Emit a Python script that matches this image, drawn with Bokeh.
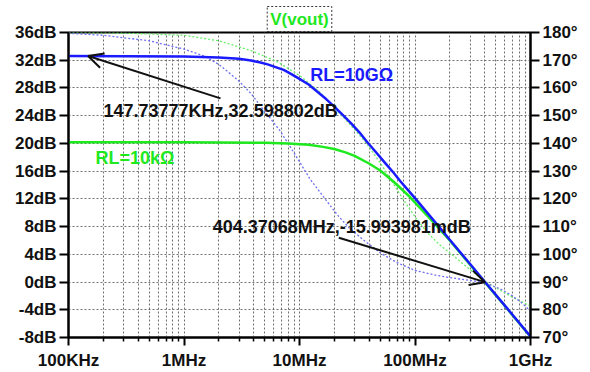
from bokeh.plotting import figure
from bokeh.models import (Range1d, LinearAxis, FixedTicker, PrintfTickFormatter,
                          Label, Arrow, OpenHead, Title)
from bokeh.embed import file_html
from bokeh.resources import INLINE

# ---------------- data ----------------
freq_mag_10g = [1e5, 1e6, 2e6, 3e6, 3.8e6, 4.5e6, 5.3e6, 6.2e6, 7.3e6, 8.5e6, 10e6,
                12e6, 14.2e6, 17e6, 20e6, 24e6, 28e6, 33e6, 38.5e6, 45e6, 55e6,
                65e6, 75e6, 100e6, 145e6, 200e6, 300e6, 404e6, 600e6, 1e9]
mag_10g = [32.6, 32.55, 32.4, 32.2, 31.95, 31.7, 31.4, 31.0, 30.6, 30.0, 29.3,
           28.5, 27.5, 26.4, 25.3, 24.0, 22.9, 21.6, 20.2, 18.9, 17.2,
           15.8, 14.5, 12.1, 8.9, 6.1, 2.6, 0.0, -3.4, -7.85]

freq_mag_10k = [1e5, 1e6, 5e6, 8e6, 12e6, 16e6, 20e6, 25e6, 30e6, 40e6, 50e6,
                65e6, 90e6, 140e6, 200e6, 300e6, 404e6, 600e6, 1e9]
mag_10k = [20.15, 20.15, 20.1, 20.0, 19.8, 19.5, 19.2, 18.7, 18.2, 17.1, 16.1,
           14.5, 12.3, 8.85, 6.0, 2.5, -0.05, -3.45, -7.9]

freq_ph_10g = [1e5, 2e5, 5e5, 1e6, 1.5e6, 2e6, 2.9e6, 3.8e6, 4.6e6, 5.6e6, 6.8e6,
               9e6, 12.4e6, 15e6, 18.5e6, 22e6, 27e6, 35e6, 50e6, 70e6, 100e6,
               150e6, 200e6, 300e6, 400e6, 550e6, 700e6, 850e6, 1e9]
ph_10g = [179.7, 179.0, 177.0, 174.0, 171.5, 168.5, 163.0, 158.0, 153.5, 149.0, 144.5,
          136.5, 127.0, 122.5, 117.5, 113.5, 109.5, 105.5, 100.5, 97.0, 94.2,
          92.5, 91.6, 90.6, 89.8, 87.5, 85.0, 82.3, 79.5]

freq_ph_10k = [1e5, 3e5, 1e6, 2e6, 3.8e6, 6.4e6, 10e6, 15e6, 21e6, 30e6, 38e6,
               50e6, 66e6, 80e6, 100e6, 128e6, 160e6, 200e6, 280e6, 400e6, 550e6,
               700e6, 1e9]
ph_10k = [180.0, 179.8, 179.0, 177.0, 173.5, 169.5, 164.5, 158.5, 152.0, 145.0, 140.0,
          133.0, 125.0, 119.5, 113.5, 107.8, 103.8, 100.5, 95.5, 90.3, 87.0,
          84.5, 81.3]

x_ticks = [1e5, 1e6, 1e7, 1e8, 1e9]
x_tick_labels = ["100KHz", "1MHz", "10MHz", "100MHz", "1GHz"]
db_ticks = list(range(-8, 37, 4))
deg_ticks = list(range(70, 181, 10))

cursor1 = (147.73777e3, 32.598802)
cursor1_text = "147.73777KHz,32.598802dB"
cursor2 = (404.37068e6, -15.993981e-3)
cursor2_text = "404.37068MHz,-15.993981mdB"

# ---------------- style ----------------
FONT = "Liberation Sans"
BLUE = "#1a1aff"
GREEN = "#1ee81e"
BLUE_DOT = "#6f6ff5"
GREEN_DOT = "#66ee66"
GRID = "#707070"

minor = []
for d in [1e5, 1e6, 1e7, 1e8]:
    minor += [d * k for k in range(2, 10)]

p = figure(width=590, height=372, x_axis_type="log", output_backend="svg",
           toolbar_location=None, x_range=Range1d(1e5, 1e9), y_range=Range1d(-8, 36),
           min_border_left=68, min_border_right=60, min_border_top=32,
           min_border_bottom=34, background_fill_color="white",
           border_fill_color="white", outline_line_color="black",
           outline_line_width=2)
p.extra_y_ranges = {"phase": Range1d(70, 180)}

p.title = Title(text="V(vout)", align="center", text_color=GREEN,
                text_font=FONT, text_font_style="bold", text_font_size="17px",
                standoff=2, border_line_color="#333333", border_line_dash="2 2",
                border_line_width=1, padding=3)

# x axis
xa = p.xaxis[0]
xa.ticker = FixedTicker(ticks=x_ticks, minor_ticks=minor)
xa.major_label_overrides = {int(t): l for t, l in zip(x_ticks, x_tick_labels)}
# left axis
ya = p.yaxis[0]
ya.ticker = FixedTicker(ticks=db_ticks)
ya.formatter = PrintfTickFormatter(format="%ddB")
# right axis
ra = LinearAxis(y_range_name="phase", ticker=FixedTicker(ticks=deg_ticks),
                formatter=PrintfTickFormatter(format="%d°"))
p.add_layout(ra, "right")

for ax in [xa, ya, ra]:
    ax.axis_line_width = 2
    ax.axis_line_color = "black"
    ax.major_tick_line_width = 2
    ax.major_tick_line_color = "black"
    ax.major_tick_in = 0
    ax.major_tick_out = 9
    ax.minor_tick_in = 0
    ax.minor_tick_out = 4
    ax.minor_tick_line_width = 1.5
    ax.minor_tick_line_color = "black"
    ax.major_label_text_font = FONT
    ax.major_label_text_font_style = "bold"
    ax.major_label_text_font_size = "17px"
    ax.major_label_text_color = "#111111"
    ax.major_label_standoff = 3
xa.major_tick_out = 8
xa.major_label_standoff = 5

p.xgrid.ticker = FixedTicker(ticks=x_ticks, minor_ticks=minor)
p.ygrid.ticker = FixedTicker(ticks=db_ticks)
for g in [p.xgrid[0], p.ygrid[0]]:
    g.grid_line_color = GRID
    g.grid_line_dash = "2 2"
    g.grid_line_width = 1
p.xgrid.minor_grid_line_color = GRID
p.xgrid.minor_grid_line_dash = "2 2"
p.xgrid.minor_grid_line_width = 1

# curves
p.line(freq_ph_10k, ph_10k, y_range_name="phase", color=GREEN_DOT, line_width=1.3,
       line_dash="2 2")
p.line(freq_ph_10g, ph_10g, y_range_name="phase", color=BLUE_DOT, line_width=1.3,
       line_dash="2 2")
p.line(freq_mag_10k, mag_10k, color=GREEN, line_width=2.5, line_join="round")
p.line(freq_mag_10g, mag_10g, color=BLUE, line_width=2.5, line_join="round")

# annotations
p.add_layout(Arrow(end=OpenHead(size=15, line_width=2, line_color="#111111"),
                   x_start=2.07e6, y_start=26.5, x_end=cursor1[0], y_end=cursor1[1],
                   line_width=2, line_color="#111111"))
p.add_layout(Arrow(end=OpenHead(size=15, line_width=2, line_color="#111111"),
                   x_start=21.9e6, y_start=6.4, x_end=cursor2[0], y_end=cursor2[1],
                   line_width=2, line_color="#111111"))

def lab(x, y, txt, color):
    l = Label(x=x, y=y, text=txt, text_font=FONT, text_font_style="bold",
              text_font_size="18px", text_color=color, text_baseline="middle",
              text_align="left")
    p.add_layout(l)
    return l

lab(2.01e5, 24.7, cursor1_text, "#111111")
lab(1.77e6, 7.9, cursor2_text, "#111111")
lab(12.4e6, 29.9, "RL=10GΩ", BLUE)
lab(1.71e5, 17.9, "RL=10kΩ", GREEN)

open("out.html", "w").write(file_html(p, INLINE))
